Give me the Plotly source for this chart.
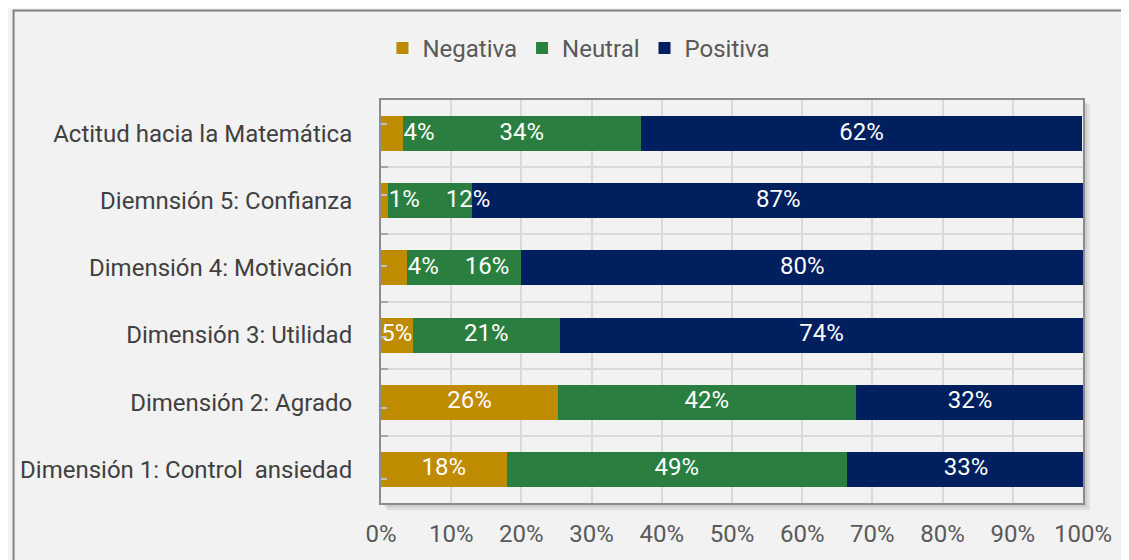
import plotly.graph_objects as go

categories = [
    "Actitud hacia la Matemática",
    "Diemnsión 5: Confianza",
    "Dimensión 4: Motivación",
    "Dimensión 3: Utilidad",
    "Dimensión 2: Agrado",
    "Dimensión 1: Control  ansiedad",
]
series_names = ["Negativa", "Neutral", "Positiva"]
negativa = [3.1, 1.0, 3.7, 4.5, 25.2, 17.9]
neutral = [33.9, 11.9, 16.3, 21.0, 42.4, 48.5]
positiva = [62.9, 87.4, 80.0, 74.5, 32.6, 33.9]
negativa_labels = ["4%", "1%", "4%", "5%", "26%", "18%"]
neutral_labels = ["34%", "12%", "16%", "21%", "42%", "49%"]
positiva_labels = ["62%", "87%", "80%", "74%", "32%", "33%"]
x_ticks = [0, 10, 20, 30, 40, 50, 60, 70, 80, 90, 100]
x_tick_labels = [f"{t}%" for t in x_ticks]

colors = ["#BF8B00", "#2A7F40", "#001F5F"]
ylabels = [c.replace("  ", "\u00a0 ") for c in categories]

fig = go.Figure()
all_vals = [negativa, neutral, positiva]
all_labs = [negativa_labels, neutral_labels, positiva_labels]
for name, vals, col in zip(series_names, all_vals, colors):
    fig.add_trace(go.Bar(
        y=ylabels, x=vals, name=name, orientation="h",
        marker=dict(color=col, line=dict(width=0)),
        hoverinfo="skip", cliponaxis=False,
    ))

# data labels drawn on top of all bars; small segments get their label just
# after the segment end, and a label that would crowd its left neighbour is
# pushed to the right.
PX_PER_UNIT = 7.05      # approximate pixels per percentage point
CHAR_PX = 13.5          # approximate label glyph width
MIN_GAP = 4.3           # minimal gap between neighbouring labels (units)
base = [0.0] * len(categories)
prev_right = [-1e9] * len(categories)
for vals, labs in zip(all_vals, all_labs):
    xs = []
    for i, v in enumerate(vals):
        w = len(labs[i]) * CHAR_PX / PX_PER_UNIT
        if v < 4.2:
            left = base[i] + v + 0.4
        else:
            left = base[i] + v / 2 - w / 2
        left = max(left, prev_right[i] + MIN_GAP)
        xs.append(left + w / 2)
        prev_right[i] = left + w
        base[i] += v
    fig.add_trace(go.Scatter(
        y=ylabels, x=xs, mode="text", text=labs, textposition="middle center",
        textfont=dict(family="Roboto", size=24, color="white"),
        showlegend=False, hoverinfo="skip", cliponaxis=False,
    ))

# extra short tick marks at the category centres
fig.add_trace(go.Scatter(y=ylabels, x=[None] * len(ylabels), yaxis="y2",
                         mode="markers", showlegend=False, hoverinfo="skip"))

fig.update_layout(
    barmode="stack",
    bargap=0.48,
    width=1121, height=552,
    margin=dict(l=370, r=46, t=92, b=55),
    paper_bgcolor="#F2F2F2",
    plot_bgcolor="rgba(0,0,0,0)",
    font=dict(family="Roboto", size=24, color="#595959"),
    legend=dict(orientation="h", x=0.282, y=1.128, xanchor="center", yanchor="middle",
                font=dict(size=24, color="#595959"), traceorder="normal",
                itemwidth=30, bgcolor="rgba(0,0,0,0)"),
    xaxis=dict(range=[0, 100], tickvals=x_ticks, ticktext=x_tick_labels,
               showgrid=True, gridcolor="#D9D9D9", gridwidth=2,
               showline=True, mirror=True, linecolor="#8C8C8C", linewidth=2,
               zeroline=False, ticks="", ticklabelstandoff=8,
               tickfont=dict(size=24, color="#595959")),
    yaxis=dict(autorange="reversed", categoryorder="array", categoryarray=ylabels,
               tickson="boundaries", showgrid=True, gridcolor="#D9D9D9", gridwidth=2,
               showline=True, mirror=True, linecolor="#8C8C8C", linewidth=2,
               ticks="inside", ticklen=7, tickcolor="#A6A6A6", tickwidth=2,
               ticklabelstandoff=22, tickfont=dict(size=24, color="#404040")),
    yaxis2=dict(overlaying="y", side="left", type="category",
                categoryorder="array", categoryarray=ylabels, autorange="reversed",
                showgrid=False, showline=False, zeroline=False, showticklabels=False,
                ticks="inside", ticklen=6, tickcolor="#BFBFBF", tickwidth=2),
    shapes=[
        dict(type="rect", xref="paper", yref="paper",
             x0=-0.5234, x1=1.3, y0=-0.3, y1=1.2222,
             line=dict(color="#808080", width=2), fillcolor="rgba(0,0,0,0)", layer="below"),
        dict(type="rect", xref="paper", yref="paper",
             x0=0.008, x1=1.010, y0=-0.018, y1=0.99,
             line=dict(width=0), fillcolor="rgba(0,0,0,0.07)", layer="below"),
        dict(type="rect", xref="paper", yref="paper",
             x0=0.005, x1=1.006, y0=-0.011, y1=0.993,
             line=dict(width=0), fillcolor="rgba(0,0,0,0.08)", layer="below"),
        dict(type="rect", xref="paper", yref="paper",
             x0=0, x1=1, y0=0, y1=1,
             line=dict(width=0), fillcolor="#F2F2F2", layer="below"),
    ],
)

fig.write_html("out.html")
